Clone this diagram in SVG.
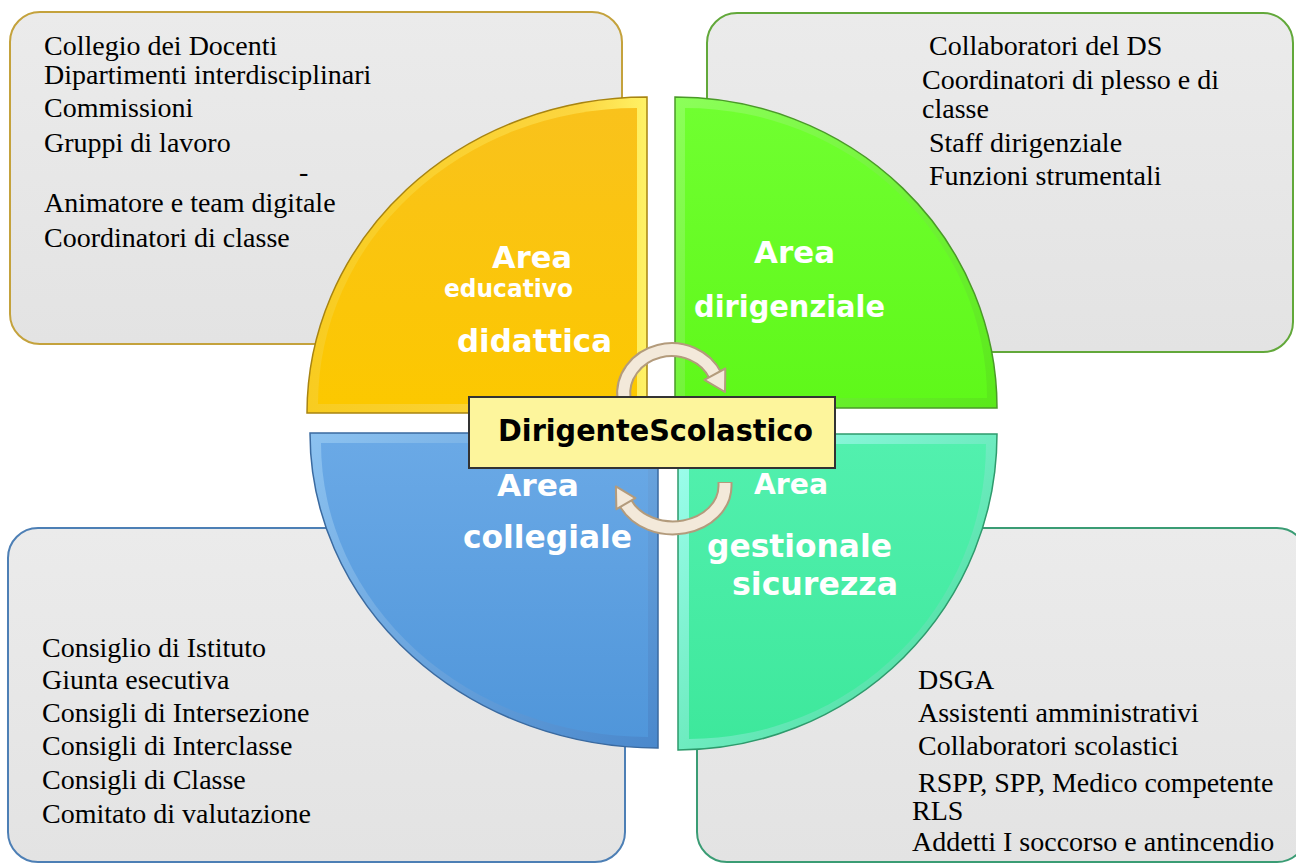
<svg xmlns="http://www.w3.org/2000/svg" width="1296" height="863" viewBox="0 0 1296 863">
<defs>
<linearGradient id="gBox" x1="0" y1="0" x2="0" y2="1"><stop offset="0" stop-color="#ebebeb"/><stop offset="1" stop-color="#e3e3e3"/></linearGradient>
<linearGradient id="yOut" x1="0" y1="0" x2="1" y2="0"><stop offset="0" stop-color="#f8cc20"/><stop offset="0.8" stop-color="#fcd640"/><stop offset="1" stop-color="#fff266"/></linearGradient>
<linearGradient id="yIn" x1="0" y1="0" x2="0" y2="1"><stop offset="0" stop-color="#f9c21c"/><stop offset="1" stop-color="#fcc800"/></linearGradient>
<linearGradient id="gOut" x1="0" y1="0" x2="1" y2="1"><stop offset="0" stop-color="#8cff5a"/><stop offset="1" stop-color="#5ae81a"/></linearGradient>
<linearGradient id="gIn" x1="0" y1="0" x2="0" y2="1"><stop offset="0" stop-color="#70ff30"/><stop offset="1" stop-color="#5ff81a"/></linearGradient>
<linearGradient id="bOut" x1="0" y1="0" x2="1" y2="1"><stop offset="0" stop-color="#8cc2f0"/><stop offset="1" stop-color="#4a88cc"/></linearGradient>
<linearGradient id="bIn" x1="0" y1="0" x2="0" y2="1"><stop offset="0" stop-color="#6aa9e6"/><stop offset="1" stop-color="#5096da"/></linearGradient>
<linearGradient id="tOut" x1="0" y1="0" x2="1" y2="1"><stop offset="0" stop-color="#a0fff0"/><stop offset="1" stop-color="#3cd890"/></linearGradient>
<linearGradient id="tIn" x1="0" y1="0" x2="0" y2="1"><stop offset="0" stop-color="#52f0ae"/><stop offset="1" stop-color="#3ee89c"/></linearGradient>
</defs>
<style>
.box{fill:url(#gBox);stroke-width:2}
.lst{font-family:"Liberation Serif","Times New Roman",serif;font-size:28px;fill:#000}
.lbl{font-family:"DejaVu Sans",Verdana,sans-serif;font-weight:bold;fill:#fff}
.arcO{fill:none;stroke:#b39b7c;stroke-width:15}
.arcI{fill:none;stroke:#f3e9da;stroke-width:11}
.head{fill:#f3e9da;stroke:#b39b7c;stroke-width:2;stroke-linejoin:round}
</style>
<rect width="1296" height="863" fill="#fff"/>

<g id="box-educativo">
<rect class="box" x="10" y="12" width="612" height="332" rx="30" stroke="#c4a23c"/>
<text class="lst" x="44" y="55">Collegio dei Docenti</text>
<text class="lst" x="44" y="84">Dipartimenti interdisciplinari</text>
<text class="lst" x="44" y="117">Commissioni</text>
<text class="lst" x="44" y="152">Gruppi di lavoro</text>
<text class="lst" x="299" y="181">-</text>
<text class="lst" x="44" y="212">Animatore e team digitale</text>
<text class="lst" x="44" y="247">Coordinatori di classe</text>
</g>

<g id="box-dirigenziale">
<rect class="box" x="707" y="13" width="586" height="339" rx="30" stroke="#62a83a"/>
<text class="lst" x="929" y="55">Collaboratori del DS</text>
<text class="lst" x="922" y="89">Coordinatori di plesso e di</text>
<text class="lst" x="922" y="118">classe</text>
<text class="lst" x="929" y="152">Staff dirigenziale</text>
<text class="lst" x="929" y="185">Funzioni strumentali</text>
</g>

<g id="box-collegiale">
<rect class="box" x="8" y="528" width="617" height="334" rx="30" stroke="#4d7fb5"/>
<text class="lst" x="42" y="657">Consiglio di Istituto</text>
<text class="lst" x="42" y="689">Giunta esecutiva</text>
<text class="lst" x="42" y="722">Consigli di Intersezione</text>
<text class="lst" x="42" y="755">Consigli di Interclasse</text>
<text class="lst" x="42" y="789">Consigli di Classe</text>
<text class="lst" x="42" y="823">Comitato di valutazione</text>
</g>

<g id="box-gestionale">
<rect class="box" x="697" y="528" width="610" height="334" rx="30" stroke="#3a9c74"/>
<text class="lst" x="918" y="689">DSGA</text>
<text class="lst" x="918" y="722">Assistenti amministrativi</text>
<text class="lst" x="918" y="755">Collaboratori scolastici</text>
<text class="lst" x="918" y="792">RSPP, SPP, Medico competente</text>
<text class="lst" x="912" y="820">RLS</text>
<text class="lst" x="912" y="851">Addetti I soccorso e antincendio</text>
</g>

<g id="area-educativo-didattica">
<path d="M647 413 L307 413 A340 316 0 0 1 647 97 Z" fill="url(#yOut)" stroke="#a88410" stroke-width="1.5"/>
<path d="M637 404 L318 404 A319 296 0 0 1 637 108 Z" fill="url(#yIn)"/>
<text class="lbl" x="492" y="268" font-size="31" textLength="80" lengthAdjust="spacingAndGlyphs">Area</text>
<text class="lbl" x="444" y="297" font-size="24" textLength="129" lengthAdjust="spacingAndGlyphs">educativo</text>
<text class="lbl" x="457" y="352" font-size="32" textLength="155" lengthAdjust="spacingAndGlyphs">didattica</text>
</g>

<g id="area-dirigenziale">
<path d="M675 408 L675 97 A322 311 0 0 1 997 408 Z" fill="url(#gOut)" stroke="#4a9a28" stroke-width="1.5"/>
<path d="M685 398 L685 108 A302 290 0 0 1 987 398 Z" fill="url(#gIn)"/>
<text class="lbl" x="754" y="263" font-size="31" textLength="81" lengthAdjust="spacingAndGlyphs">Area</text>
<text class="lbl" x="694" y="317" font-size="30" textLength="191" lengthAdjust="spacingAndGlyphs">dirigenziale</text>
</g>

<g id="area-collegiale">
<path d="M658 433 L658 748 A348 315 0 0 1 310 433 Z" fill="url(#bOut)" stroke="#3a6aa0" stroke-width="1.5"/>
<path d="M648 443 L648 737 A327 294 0 0 1 321 443 Z" fill="url(#bIn)"/>
<text class="lbl" x="497" y="496" font-size="31" textLength="82" lengthAdjust="spacingAndGlyphs">Area</text>
<text class="lbl" x="463" y="548" font-size="32" textLength="169" lengthAdjust="spacingAndGlyphs">collegiale</text>
</g>

<g id="area-gestionale-sicurezza">
<path d="M678 434 L997 434 A319 316 0 0 1 678 750 Z" fill="url(#tOut)" stroke="#2e9a6c" stroke-width="1.5"/>
<path d="M689 444 L986 444 A297 295 0 0 1 689 739 Z" fill="url(#tIn)"/>
<text class="lbl" x="754" y="494" font-size="28" textLength="74" lengthAdjust="spacingAndGlyphs">Area</text>
<text class="lbl" x="707" y="557" font-size="32" textLength="185" lengthAdjust="spacingAndGlyphs">gestionale</text>
<text class="lbl" x="732" y="595" font-size="32" textLength="166" lengthAdjust="spacingAndGlyphs">sicurezza</text>
</g>

<g id="connectors">
<path class="arcO" d="M624 399 A48 44 0 0 1 715.6 376"/>
<path class="arcI" d="M624 399 A48 44 0 0 1 715.6 376"/>
<polygon class="head" points="725,392 725.3,368.5 704.4,379.8"/>
<path class="arcO" d="M725 482 L725 486 A52 42 0 0 1 625.9 503.7"/>
<path class="arcI" d="M725 483 L725 486 A52 42 0 0 1 625.9 503.7"/>
<polygon class="head" points="615.9,486.4 635.4,498.2 616.4,509.2"/>
</g>

<g id="dirigente-scolastico">
<rect x="469" y="397" width="366" height="71" fill="#fdf59c" stroke="#333" stroke-width="2"/>
<text x="498" y="441" font-family="'DejaVu Sans',Verdana,sans-serif" font-weight="bold" font-size="30" fill="#000" textLength="315" lengthAdjust="spacingAndGlyphs">DirigenteScolastico</text>
</g>
</svg>
